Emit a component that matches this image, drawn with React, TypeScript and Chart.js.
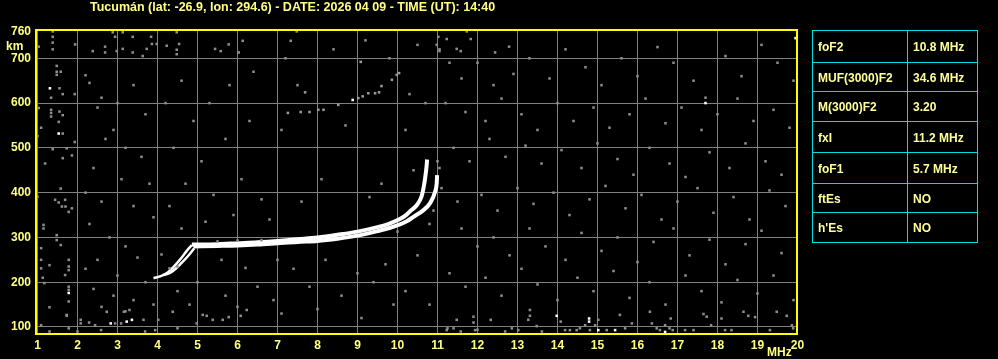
import React, { useEffect, useRef } from 'react';
import { Chart, registerables } from 'chart.js';

Chart.register(...registerables);

const TITLE = 'Tucumán (lat: -26.9, lon: 294.6) - DATE: 2026 04 09 - TIME (UT): 14:40';
const xTickValues = [1, 2, 3, 4, 5, 6, 7, 8, 9, 10, 11, 12, 13, 14, 15, 16, 17, 18, 19, 20];
const yTickValues = [100, 200, 300, 400, 500, 600, 700, 760];

const paramNames = ['foF2', 'MUF(3000)F2', 'M(3000)F2', 'fxI', 'foF1', 'ftEs', "h'Es"];
const paramValues = ['10.8 MHz', '34.6 MHz', '3.20', '11.2 MHz', '5.7 MHz', 'NO', 'NO'];

// Low-frequency (F1) branches of the traces
const oLowBranch: [number, number][] = [
  [3.9, 209], [4.1, 214], [4.27, 223], [4.4, 234], [4.52, 246], [4.63, 258], [4.73, 270], [4.86, 283],
];
const xLowBranch: [number, number][] = [
  [4.15, 216], [4.3, 220], [4.44, 229], [4.6, 243], [4.77, 259], [4.92, 276],
];
// Ordinary trace (frequency MHz, virtual height km)
const oTrace: [number, number][] = [
  [4.86, 284], [5.5, 285], [6, 287], [6.5, 289], [7, 292], [7.5, 296], [8, 300], [8.5, 306],
  [9, 313], [9.5, 323], [9.8, 331], [10.06, 341], [10.23, 351], [10.31, 358], [10.48, 372],
  [10.6, 391], [10.65, 410], [10.69, 432], [10.73, 462], [10.74, 474],
];
// Extraordinary trace
const xTrace: [number, number][] = [
  [4.9, 280], [5.5, 281], [6, 282], [6.5, 284], [7, 287], [7.5, 290], [8, 292], [8.5, 297],
  [9, 304], [9.5, 314], [9.8, 321], [10.06, 329], [10.23, 336], [10.4, 346], [10.65, 361],
  [10.81, 376], [10.94, 402], [10.98, 421], [10.99, 439],
];
// Faint second-hop echoes
const secondHop: [number, number][] = [
  [7.26, 578], [7.58, 580], [7.8, 580], [8.02, 585], [8.15, 585], [8.52, 596], [9.02, 611], [9.13, 615],
  [9.27, 622], [9.44, 622], [9.54, 624], [9.6, 638], [9.86, 652], [9.98, 663], [10.04, 667], [7.69, 624], [9.08, 692],
];
// Bright isolated echoes
const brightDots: [number, number][] = [
  [1.31, 633], [1.53, 532], [1.78, 176], [2.83, 108], [3.23, 112], [3.36, 116], [8.88, 607],
  [13.98, 125], [14.79, 119], [14.79, 112], [15.02, 93], [15.44, 93], [16.69, 89], [17.7, 600], [19.95, 745],
];
// Background noise echoes
const noiseDots: [number, number][] = [
  [1.38, 760], [1.38, 748], [1.38, 735], [1.03, 726], [1.38, 720], [1.48, 683], [1.48, 670], [1.58, 670],
  [1.48, 663], [1.55, 633], [1.63, 620], [1.93, 620], [1.34, 612], [1.03, 589], [1.34, 585], [1.34, 578],
  [1.34, 570], [1.55, 581], [1.63, 573], [1.53, 558], [1.09, 545], [1.63, 532], [1.0, 526], [1.93, 513],
  [1.73, 499], [1.38, 497], [1.86, 483], [1.63, 477], [1.19, 465], [1.58, 409], [1.44, 384], [1.53, 378],
  [1.69, 384], [1.61, 369], [1.7, 369], [1.78, 357], [1.86, 365], [1.0, 391], [1.15, 328], [1.15, 320],
  [1.48, 305], [1.48, 294], [1.58, 283], [1.09, 276], [1.09, 250], [1.78, 250], [1.09, 231], [1.3, 238],
  [1.78, 235], [1.78, 227], [1.13, 210], [1.69, 216], [1.17, 198], [1.78, 190], [1.78, 183], [1.78, 157],
  [1.3, 144], [1.73, 127], [1.09, 104], [1.3, 90], [1.78, 97], [1.94, 731],
  [2.88, 758], [2.94, 748], [3.13, 758], [3.38, 748], [3.84, 748], [3.98, 732], [4.23, 728], [4.48, 758],
  [4.54, 732], [4.48, 719], [4.48, 709], [2.38, 716], [2.69, 726], [2.69, 713], [2.98, 716], [3.13, 721],
  [3.38, 713], [3.73, 721], [3.63, 705], [3.86, 732], [5.44, 721], [5.58, 716], [5.78, 731], [6.13, 739],
  [6.03, 713], [7.48, 760], [7.33, 739], [11.02, 748], [10.98, 730], [11.05, 720], [11.05, 716], [11.23, 743],
  [11.48, 721], [11.58, 716], [11.73, 760], [11.83, 743], [12.44, 713], [12.79, 726],
  [1.73, 125], [2.0, 90], [2.08, 116], [2.08, 108], [2.29, 110], [2.44, 104], [2.59, 93], [2.73, 134],
  [2.94, 108], [3.09, 108], [3.16, 134], [3.3, 138], [3.65, 116], [3.69, 90], [3.94, 93], [4.02, 116],
  [4.38, 134], [4.5, 97], [4.98, 108], [5.13, 127], [5.23, 125], [5.38, 116], [5.63, 116], [5.78, 122],
  [6.08, 125], [6.23, 138], [11.23, 93], [11.25, 97], [11.4, 97], [11.48, 116], [11.58, 90], [11.9, 123],
  [11.9, 110], [11.94, 93], [12.0, 94], [12.33, 116], [12.69, 90], [12.86, 97], [13.02, 93], [13.27, 116],
  [13.31, 125], [13.31, 138], [13.48, 102], [13.61, 90], [14.08, 112], [14.19, 93], [14.31, 93], [14.48, 93],
  [14.56, 97], [14.69, 104], [14.81, 93], [14.94, 104], [15.02, 116], [15.23, 93], [15.56, 127], [15.69, 97],
  [15.86, 108], [16.31, 134], [16.36, 108], [16.48, 97], [16.56, 93], [16.69, 104], [16.8, 97], [16.88, 93],
  [16.83, 119], [17.19, 93], [17.4, 93], [17.65, 129], [17.73, 123], [17.84, 104], [18.1, 119], [18.19, 93],
  [18.35, 93], [18.65, 134], [18.77, 125], [18.94, 122], [19.31, 93], [19.48, 134], [19.73, 125], [19.86, 104],
  [19.89, 97],
  [5.5, 291], [6.0, 293], [6.6, 294], [4.5, 235], [4.3, 231], [10.0, 313], [10.8, 330], [11.0, 470],
  [11.05, 455], [10.9, 360],
  [2.2, 662], [2.3, 645], [2.6, 612], [2.5, 590], [3.0, 600], [3.4, 640], [3.7, 575], [2.9, 540],
  [2.7, 520], [3.2, 500], [3.6, 480], [2.4, 455], [3.1, 430], [3.8, 420], [2.2, 400], [2.6, 380],
  [3.4, 370], [3.9, 345], [2.3, 330], [2.8, 300], [3.2, 280], [3.5, 255], [2.5, 250], [2.2, 230],
  [3.0, 215], [3.7, 200], [2.4, 185], [2.9, 170], [3.4, 160], [3.9, 150], [2.6, 145], [3.2, 135],
  [4.2, 600], [4.6, 650], [4.9, 560], [5.3, 600], [5.8, 640], [6.4, 670], [4.4, 500], [5.1, 470],
  [5.7, 520], [6.3, 560], [4.7, 420], [5.4, 395], [6.1, 430], [4.3, 370], [5.9, 350], [6.6, 385],
  [4.6, 320], [5.2, 335], [6.8, 340], [4.1, 262], [5.6, 250], [6.2, 232], [7.0, 250], [4.5, 180],
  [5.0, 200], [5.7, 170], [6.5, 190], [4.8, 150], [6.0, 145], [6.9, 160],
  [7.2, 700], [8.4, 720], [9.2, 740], [9.8, 700], [10.5, 730], [7.5, 640], [10.3, 620], [10.7, 600],
  [7.1, 540], [8.7, 550], [10.2, 540], [8.1, 430], [9.6, 420], [10.4, 450], [7.6, 380], [9.3, 390],
  [7.4, 230], [8.2, 250], [9.0, 220], [9.7, 240], [10.5, 260], [7.8, 190], [8.6, 170], [9.4, 200],
  [10.2, 180], [10.8, 150], [7.1, 130], [8.0, 140], [9.1, 120], [9.9, 150],
  [11.3, 690], [11.6, 655], [12.0, 690], [12.4, 640], [12.9, 665], [13.3, 700], [13.8, 655], [14.2, 720],
  [14.7, 680], [15.1, 640], [15.6, 700], [16.0, 660], [16.5, 725], [16.9, 690], [17.4, 650], [17.7, 612],
  [18.2, 705], [18.6, 660], [19.1, 730], [19.5, 690], [19.9, 650],
  [11.2, 600], [11.7, 580], [12.2, 560], [12.6, 610], [13.1, 575], [13.5, 540], [14.0, 600], [14.4, 560],
  [14.9, 590], [15.3, 545], [15.8, 575], [16.2, 610], [16.7, 555], [17.1, 590], [17.6, 540], [18.0, 575],
  [18.5, 610], [18.9, 560], [19.4, 585], [19.8, 545],
  [11.4, 500], [11.8, 470], [12.3, 520], [12.7, 480], [13.2, 505], [13.6, 465], [14.1, 495], [14.6, 455],
  [15.0, 510], [15.5, 475], [15.9, 440], [16.3, 500], [16.8, 465], [17.2, 435], [17.8, 490], [18.3, 455],
  [18.7, 510], [19.2, 470], [19.6, 440],
  [11.1, 410], [11.5, 380], [12.1, 395], [12.5, 360], [13.0, 410], [13.4, 375], [13.9, 400], [14.3, 350],
  [14.8, 385], [15.2, 415], [15.7, 365], [16.1, 395], [16.6, 340], [17.0, 380], [17.5, 410], [17.9, 355],
  [18.4, 390], [18.8, 340], [19.3, 405], [19.7, 370],
  [11.6, 320], [12.0, 280], [12.4, 300], [12.8, 260], [13.3, 320], [13.7, 280], [14.2, 250], [14.6, 310],
  [15.1, 270], [15.5, 300], [16.0, 245], [16.4, 290], [16.9, 320], [17.3, 260], [17.8, 295], [18.2, 240],
  [18.7, 285], [19.1, 315], [19.6, 265],
  [11.3, 220], [11.7, 190], [12.2, 210], [12.6, 170], [13.1, 230], [13.5, 195], [14.0, 160], [14.5, 210],
  [14.9, 180], [15.4, 225], [15.8, 165], [16.3, 200], [16.7, 150], [17.2, 215], [17.6, 180], [18.1, 155],
  [18.5, 205], [19.0, 175], [19.4, 215], [19.9, 160],
];

const FONT = '"Liberation Sans", Arial, sans-serif';
const LABEL_COLOR = '#ffff80';

const toXY = (arr: [number, number][]) => arr.map(([x, y]) => ({ x, y }));

const decorPlugin = {
  id: 'decor',
  afterDraw(chart: any) {
    const { ctx, chartArea } = chart;
    const { left, top, right, bottom } = chartArea;
    ctx.save();
    ctx.strokeStyle = '#ffff00';
    ctx.lineWidth = 2;
    ctx.strokeRect(left, top + 1, right - left - 1, bottom - top);
    ctx.fillStyle = LABEL_COLOR;
    ctx.textBaseline = 'alphabetic';
    ctx.textAlign = 'left';
    ctx.font = `bold 12.5px ${FONT}`;
    ctx.fillText(TITLE, 90, 11);
    ctx.font = `bold 12px ${FONT}`;
    ctx.fillText('km', 6, 50);
    ctx.fillText('MHz', 767, 356);
    ctx.restore();
  },
};

const lineDataset = (label: string, data: [number, number][], width: number) => ({
  label,
  data: toXY(data),
  showLine: true,
  borderColor: '#ffffff',
  borderWidth: width,
  pointRadius: 0,
  cubicInterpolationMode: 'monotone' as const,
});

const dotDataset = (label: string, data: [number, number][], color: string, radius: number) => ({
  label,
  data: toXY(data),
  pointStyle: 'rect' as const,
  pointRadius: radius,
  borderWidth: 0,
  backgroundColor: color,
  showLine: false,
});

export default function App() {
  const canvasRef = useRef<HTMLCanvasElement | null>(null);

  useEffect(() => {
    document.body.style.margin = '0';
    document.body.style.background = '#000';
    const canvas = canvasRef.current;
    if (!canvas) return;
    const tickFont = { family: FONT, weight: 'bold' as const, size: 12 };
    const chart = new Chart(canvas, {
      type: 'scatter',
      data: {
        datasets: [
          dotDataset('noise', noiseDots, '#8c8c8c', 1.8),
          dotDataset('second hop', secondHop, '#9a9a9a', 1.8),
          dotDataset('bright', brightDots, '#ffffff', 1.8),
          lineDataset('X low', xLowBranch, 2.5),
          lineDataset('O low', oLowBranch, 2.5),
          lineDataset('X trace', xTrace, 4),
          lineDataset('O trace', oTrace, 4),
        ] as any,
      },
      options: {
        animation: false,
        responsive: false,
        devicePixelRatio: 1,
        layout: { padding: { left: 0, right: 200, top: 29, bottom: 0 } },
        plugins: { legend: { display: false }, tooltip: { enabled: false }, title: { display: false } },
        scales: {
          x: {
            type: 'linear',
            min: 0.9625,
            max: 20.0125,
            afterBuildTicks: (s: any) => {
              s.ticks = xTickValues.map((v) => ({ value: v }));
            },
            afterFit: (s: any) => {
              s.height = 26;
            },
            grid: { color: '#808080', lineWidth: 1, drawTicks: false },
            border: { display: false },
            ticks: {
              color: LABEL_COLOR,
              font: tickFont,
              padding: 5,
              autoSkip: false,
              maxRotation: 0,
              callback: (v: any) => String(v),
            },
          },
          y: {
            type: 'linear',
            min: 86.6,
            max: 765.4,
            afterBuildTicks: (s: any) => {
              s.ticks = yTickValues.map((v) => ({ value: v }));
            },
            afterFit: (s: any) => {
              s.width = 36;
            },
            grid: {
              color: (c: any) => (c.tick && c.tick.value === 760 ? 'rgba(0,0,0,0)' : '#808080'),
              lineWidth: 1,
              drawTicks: false,
            },
            border: { display: false },
            ticks: {
              color: LABEL_COLOR,
              font: tickFont,
              padding: 5,
              autoSkip: false,
              callback: (v: any) => String(v),
            },
          },
        },
      },
      plugins: [decorPlugin],
    });
    return () => chart.destroy();
  }, []);

  const rowTops = [0, 31.7, 61.3, 91, 121.7, 152.7, 182.3, 212];
  const tableLeft = 812;
  const tableTop = 30;
  const tableWidth = 166;
  const colSplit = 95;
  const cyan = '#00e0e0';
  const cellText = {
    position: 'absolute' as const,
    top: 0,
    fontFamily: FONT,
    fontWeight: 'bold' as const,
    fontSize: 12,
    color: '#ffff99',
    whiteSpace: 'nowrap' as const,
    display: 'flex',
    alignItems: 'center',
  };

  return (
    <div style={{ position: 'fixed', left: 0, top: 0, width: 998, height: 359, background: '#000', overflow: 'hidden' }}>
      <canvas ref={canvasRef} width={998} height={359} style={{ position: 'absolute', left: 0, top: 0, width: 998, height: 359 }} />
      <div
        style={{
          position: 'absolute',
          left: tableLeft,
          top: tableTop,
          width: tableWidth,
          height: rowTops[rowTops.length - 1] + 1,
          boxSizing: 'border-box',
          border: `1px solid ${cyan}`,
        }}
      >
        <div style={{ position: 'absolute', left: colSplit - 1, top: 0, width: 1, height: '100%', background: cyan }} />
        {paramNames.map((name, i) => {
          const top = Math.round(rowTops[i]);
          const h = Math.round(rowTops[i + 1]) - top;
          return (
            <div key={name} style={{ position: 'absolute', left: 0, top, width: tableWidth - 2, height: h }}>
              {i > 0 && <div style={{ position: 'absolute', left: 0, top: -1, width: '100%', height: 1, background: cyan }} />}
              <div style={{ ...cellText, left: 5, height: h }}>{name}</div>
              <div style={{ ...cellText, left: colSplit + 5, height: h }}>{paramValues[i]}</div>
            </div>
          );
        })}
      </div>
    </div>
  );
}
